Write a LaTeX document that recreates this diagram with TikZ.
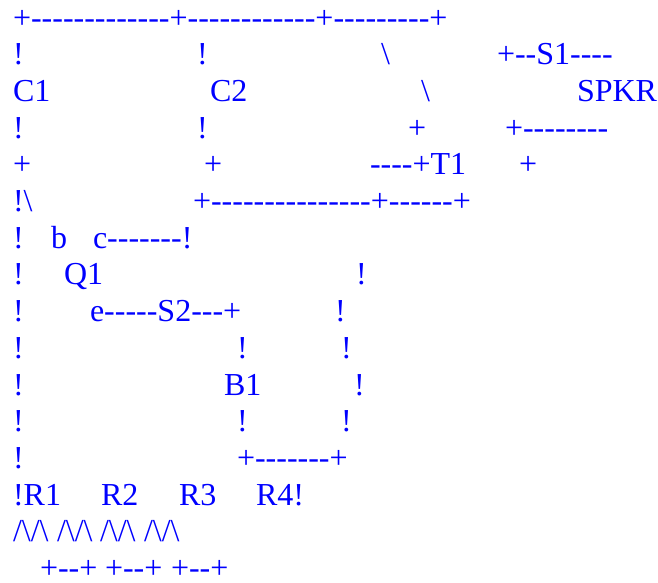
\documentclass[tikz,border=0pt]{standalone}
\usepackage{fontspec}
\newfontfamily\diagfont{Liberation Serif}
\definecolor{asciiblue}{RGB}{0,0,255}
\tikzset{
  art/.style={text=asciiblue,inner sep=0pt,outer sep=0pt,anchor=base west,font=\diagfont\fontsize{32}{36}\selectfont}
}
\newcommand{\bs}{\char"5C\relax}
\newcommand{\chunk}[4]{\node[art] (#1) at (#2,{(28+36.7*#3)}) {#4};}
\begin{document}
\begin{tikzpicture}[x=1pt,y=-1pt]
\useasboundingbox (0,0) rectangle (658,582);
\chunk{a0}{13}{0}{+-------------+------------+---------+}
\chunk{a1}{13}{1}{!}
\chunk{b1}{197}{1}{!}
\chunk{c1}{381}{1}{\bs}
\chunk{d1}{497}{1}{+--S1----}
\chunk{a2}{13}{2}{C1}
\chunk{b2}{210}{2}{C2}
\chunk{c2}{421}{2}{\bs}
\chunk{d2}{577}{2}{SPKR}
\chunk{a3}{13}{3}{!}
\chunk{b3}{197}{3}{!}
\chunk{c3}{408}{3}{+}
\chunk{d3}{505}{3}{+--------}
\chunk{a4}{13}{4}{+}
\chunk{b4}{204}{4}{+}
\chunk{c4}{370}{4}{----+T1}
\chunk{d4}{519}{4}{+}
\chunk{a5}{13}{5}{!\bs}
\chunk{b5}{193}{5}{+---------------+------+}
\chunk{a6}{13}{6}{!}
\chunk{b6}{51}{6}{b}
\chunk{c6}{93}{6}{c-------!}
\chunk{a7}{13}{7}{!}
\chunk{b7}{64}{7}{Q1}
\chunk{c7}{356}{7}{!}
\chunk{a8}{13}{8}{!}
\chunk{b8}{90}{8}{e-----S2---+}
\chunk{c8}{335}{8}{!}
\chunk{a9}{13}{9}{!}
\chunk{b9}{237}{9}{!}
\chunk{c9}{341}{9}{!}
\chunk{a10}{13}{10}{!}
\chunk{b10}{224}{10}{B1}
\chunk{c10}{354}{10}{!}
\chunk{a11}{13}{11}{!}
\chunk{b11}{237}{11}{!}
\chunk{c11}{341}{11}{!}
\chunk{a12}{13}{12}{!}
\chunk{b12}{237}{12}{+-------+}
\chunk{a13}{13}{13}{!R1}
\chunk{b13}{101}{13}{R2}
\chunk{c13}{179}{13}{R3}
\chunk{d13}{256}{13}{R4!}
\chunk{a14}{13}{14}{/\bs/\bs}
\chunk{b14}{57}{14}{/\bs/\bs}
\chunk{c14}{100}{14}{/\bs/\bs}
\chunk{d14}{144}{14}{/\bs/\bs}
\chunk{a15}{40}{15}{+--+}
\chunk{b15}{105}{15}{+--+}
\chunk{c15}{171}{15}{+--+}
\end{tikzpicture}
\end{document}
